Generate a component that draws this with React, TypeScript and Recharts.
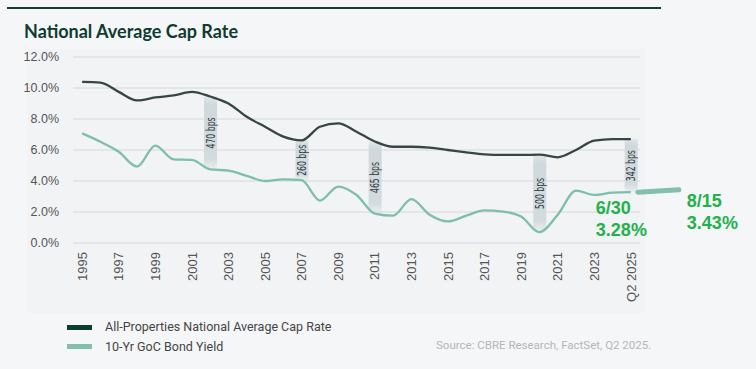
import React from 'react';
import {
  ComposedChart,
  Line,
  Bar,
  XAxis,
  YAxis,
  CartesianGrid,
  LabelList,
  ReferenceLine,
} from 'recharts';

const years = [
  '1995', '1996', '1997', '1998', '1999', '2000', '2001', '2002', '2003', '2004',
  '2005', '2006', '2007', '2008', '2009', '2010', '2011', '2012', '2013', '2014',
  '2015', '2016', '2017', '2018', '2019', '2020', '2021', '2022', '2023', '2024',
  'Q2 2025',
];

const capRate = [
  10.39, 10.35, 9.75, 9.2, 9.39, 9.52, 9.75, 9.45, 9.0, 8.14,
  7.5, 6.86, 6.62, 7.5, 7.72, 7.18, 6.55, 6.21, 6.21, 6.15,
  6.0, 5.85, 5.72, 5.68, 5.68, 5.7, 5.53, 6.0, 6.6, 6.7,
  6.7,
];

const bondYield = [
  7.07, 6.53, 5.89, 4.93, 6.28, 5.4, 5.36, 4.75, 4.67, 4.33,
  4.0, 4.11, 4.05, 2.74, 3.64, 3.1, 1.9, 1.76, 2.83, 1.82,
  1.39, 1.76, 2.1, 2.03, 1.71, 0.7, 1.82, 3.38, 3.1, 3.25,
  3.28,
];

const spreadYears = ['2002', '2007', '2011', '2020', 'Q2 2025'];
const spreadBps = [470, 260, 465, 500, 342];

const yTicks = [0, 2, 4, 6, 8, 10, 12];

const lastDateLabel = '6/30';
const lastValue = 3.28;
const latestDateLabel = '8/15';
const latestValue = 3.43;

const data = years.map((year, i) => {
  const s = spreadYears.indexOf(year);
  return {
    year,
    cap: capRate[i],
    bond: bondYield[i],
    spread: s >= 0 ? [bondYield[i], capRate[i]] : null,
    bps: s >= 0 ? `${spreadBps[s]} bps` : null,
  };
});

const ANNOT_GREEN = '#22b14c';

const XTick = (props: any) => {
  const { x, y, payload } = props;
  return (
    <g transform={`translate(${x},${y})`}>
      <text
        transform="rotate(-90)"
        x={-9}
        y={0}
        dy="0.36em"
        textAnchor="end"
        fill="#555"
        fontSize={13}
        fontFamily="'Liberation Sans', Arial, sans-serif"
      >
        {payload.value}
      </text>
    </g>
  );
};

const BpsLabel = (props: any) => {
  const { x, y, width, height, value } = props;
  if (!value || x == null) return null;
  const cx = x + width / 2;
  const cy = y + height / 2;
  return (
    <text
      transform={`translate(${cx},${cy}) rotate(-90)`}
      x={-15.5}
      textAnchor="start"
      dy="0.36em"
      fill="#323c3e"
      fontSize={11.5}
      textLength={31}
      lengthAdjust="spacingAndGlyphs"
      fontFamily="'DejaVu Sans Condensed', 'DejaVu Sans', sans-serif"
    >
      {value}
    </text>
  );
};

const LatestSegment = (props: any) => {
  const { x1, y1, y2 } = props;
  if (x1 == null) return null;
  const font = "'Liberation Sans', Arial, sans-serif";
  return (
    <g>
      <line
        x1={x1 + 7}
        y1={y1}
        x2={x1 + 48}
        y2={y2}
        stroke="#82bfac"
        strokeWidth={5}
        strokeLinecap="round"
      />
      <text x={x1 - 35} y={y1 + 22} fill={ANNOT_GREEN} fontSize={18} fontWeight={700} fontFamily={font}>
        {lastDateLabel}
      </text>
      <text x={x1 - 35} y={y1 + 44} fill={ANNOT_GREEN} fontSize={18} fontWeight={700} fontFamily={font}>
        {`${lastValue.toFixed(2)}%`}
      </text>
      <text x={x1 + 56} y={y2 + 17} fill={ANNOT_GREEN} fontSize={18} fontWeight={700} fontFamily={font}>
        {latestDateLabel}
      </text>
      <text x={x1 + 56} y={y2 + 39} fill={ANNOT_GREEN} fontSize={18} fontWeight={700} fontFamily={font}>
        {`${latestValue.toFixed(2)}%`}
      </text>
    </g>
  );
};

export default function App() {
  return (
    <div
      style={{
        position: 'absolute',
        left: 0,
        top: 0,
        width: 756,
        height: 369,
        background: '#f5f6f7',
        overflow: 'hidden',
        fontFamily: "Roboto, 'Liberation Sans', sans-serif",
      }}
    >
      <div style={{ position: 'absolute', left: 7, top: 7, width: 654, height: 2, background: '#1c3b37' }} />
      <div style={{ position: 'absolute', left: 27, top: 49, width: 618, height: 264, background: '#f1f3f5' }} />
      <div
        style={{
          position: 'absolute',
          left: 24,
          top: 19,
          fontFamily: "Lato, 'Open Sans', sans-serif",
          fontWeight: 700,
          fontSize: 18,
          color: '#0f3b31',
          lineHeight: '24px',
          whiteSpace: 'nowrap',
        }}
      >
        National Average Cap Rate
      </div>

      <ComposedChart
        width={756}
        height={369}
        data={data}
        margin={{ top: 57, right: 116, bottom: 81, left: 13 }}
        style={{ position: 'absolute', left: 0, top: 0 }}
      >
        <defs>
          <linearGradient id="bandGrad" x1="0" y1="0" x2="0" y2="1">
            <stop offset="0%" stopColor="#cfd8dc" stopOpacity={0.5} />
            <stop offset="12%" stopColor="#cfd8dc" stopOpacity={1} />
            <stop offset="85%" stopColor="#cfd8dc" stopOpacity={0.9} />
            <stop offset="100%" stopColor="#cfd8dc" stopOpacity={0.15} />
          </linearGradient>
        </defs>
        <CartesianGrid vertical={false} stroke="#dee1e4" strokeWidth={1.5} />
        <XAxis
          dataKey="year"
          interval={1}
          axisLine={false}
          tickLine={false}
          tickSize={0}
          tickMargin={0}
          height={45}
          tick={<XTick />}
        />
        <YAxis
          domain={[0, 12]}
          ticks={yTicks}
          axisLine={false}
          tickLine={false}
          tickSize={0}
          tickMargin={14}
          width={60}
          tickFormatter={(v: number) => `${v.toFixed(1)}%`}
          tick={{ fill: '#555', fontSize: 12.5, fontFamily: "'Liberation Sans', Arial, sans-serif" }}
        />
        <Bar dataKey="spread" barSize={13} fill="url(#bandGrad)" isAnimationActive={false}>
          <LabelList dataKey="bps" content={<BpsLabel />} />
        </Bar>
        <Line
          type="monotone"
          dataKey="cap"
          stroke="#384643"
          strokeWidth={2.3}
          dot={false}
          activeDot={false}
          isAnimationActive={false}
        />
        <Line
          type="monotone"
          dataKey="bond"
          stroke="#7dbfa9"
          strokeWidth={2.3}
          dot={false}
          activeDot={false}
          isAnimationActive={false}
        />
        <ReferenceLine
          segment={[
            { x: 'Q2 2025', y: lastValue },
            { x: 'Q2 2025', y: latestValue },
          ]}
          ifOverflow="visible"
          shape={<LatestSegment />}
        />
      </ComposedChart>

      <div style={{ position: 'absolute', left: 67, top: 325, width: 25, height: 5, background: '#0b3d2d' }} />
      <div
        style={{
          position: 'absolute',
          left: 105,
          top: 319,
          fontSize: 12.5,
          color: '#444',
          lineHeight: '16px',
          whiteSpace: 'nowrap',
        }}
      >
        All-Properties National Average Cap Rate
      </div>
      <div style={{ position: 'absolute', left: 67, top: 344, width: 25, height: 5, background: '#82c0ac' }} />
      <div
        style={{
          position: 'absolute',
          left: 105,
          top: 339,
          fontSize: 12.5,
          color: '#444',
          lineHeight: '16px',
          whiteSpace: 'nowrap',
        }}
      >
        10-Yr GoC Bond Yield
      </div>
      <div
        style={{
          position: 'absolute',
          left: 436,
          top: 338,
          fontSize: 11.5,
          color: '#b3b6b9',
          lineHeight: '15px',
          whiteSpace: 'nowrap',
        }}
      >
        Source: CBRE Research, FactSet, Q2 2025.
      </div>
    </div>
  );
}
